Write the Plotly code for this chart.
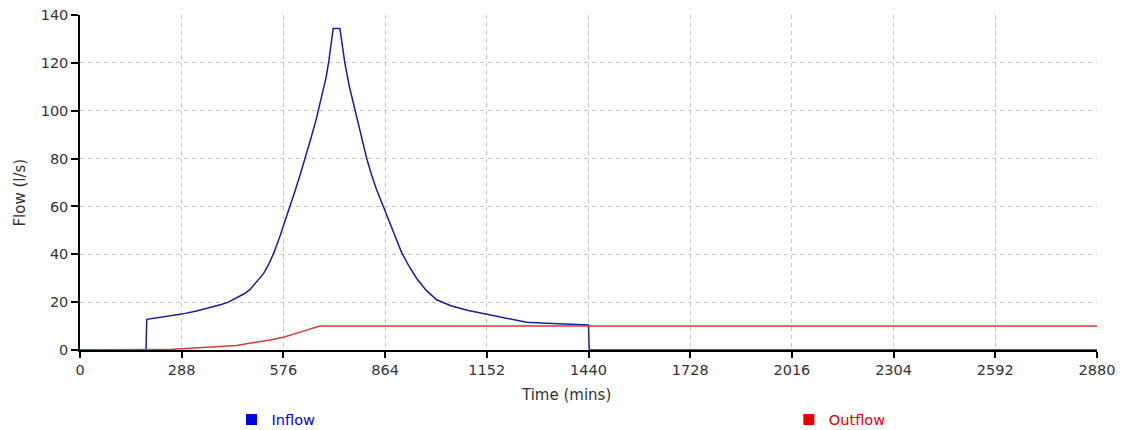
import plotly.graph_objects as go

# ---- data ----
inflow_time = [0, 187, 189, 220, 260, 288, 330, 370, 400, 420, 445, 465, 481, 500, 520, 535,
               550, 565, 580, 595, 610, 625, 640, 655, 670, 685, 697, 705, 712, 717, 736,
               742, 750, 763, 779, 795, 812, 826, 840, 859, 880, 895, 910, 930, 953, 980,
               1010, 1050, 1100, 1152, 1200, 1265, 1320, 1380, 1430, 1440, 1442, 2880]
inflow_flow = [0, 0, 12.8, 13.5, 14.3, 15.0, 16.3, 17.8, 19.0, 20.0, 21.8, 23.5, 25.2, 28.5, 32, 36,
               41, 47, 53.5, 60, 67, 74, 81, 89, 97, 106, 114, 121, 128, 134.4, 134.4,
               128, 120, 110, 100, 90, 80, 73, 67, 60, 52.5, 47, 41, 35.5, 30, 25,
               21, 18.5, 16.5, 14.9, 13.5, 11.6, 11.2, 10.9, 10.7, 10.5, 0, 0]

outflow_time = [0, 255, 262, 288, 330, 358, 400, 444, 480, 510, 538, 576, 610, 640, 665, 680, 2880]
outflow_flow = [0, 0, 0.3, 0.5, 0.8, 1.2, 1.5, 1.9, 2.8, 3.4, 4.2, 5.3, 6.7, 8.2, 9.4, 10.0, 10.0]

x_ticks = [0, 288, 576, 864, 1152, 1440, 1728, 2016, 2304, 2592, 2880]
y_ticks = [0, 20, 40, 60, 80, 100, 120, 140]

series_names = ["Inflow", "Outflow"]

# ---- styling ----
FONT = "DejaVu Sans"
TEXT = "#333333"
LINE_BLUE = "#1c1c9c"
LINE_RED = "#d43a3a"
KEY_BLUE = "#0000e6"
KEY_RED = "#e60000"
GRID = "#c4c4c4"

fig = go.Figure()

fig.add_trace(go.Scatter(x=inflow_time, y=inflow_flow, mode="lines",
                         line=dict(color=LINE_BLUE, width=1.5), showlegend=False,
                         name=series_names[0]))
fig.add_trace(go.Scatter(x=outflow_time, y=outflow_flow, mode="lines",
                         line=dict(color=LINE_RED, width=1.5), showlegend=False,
                         name=series_names[1]))

# legend keys (square swatches)
fig.add_trace(go.Scatter(x=[None], y=[None], mode="markers", name=series_names[0],
                         marker=dict(symbol="square", size=11, color=KEY_BLUE),
                         legend="legend"))
fig.add_trace(go.Scatter(x=[None], y=[None], mode="markers", name=series_names[1],
                         marker=dict(symbol="square", size=11, color=KEY_RED),
                         legend="legend2"))

axis_common = dict(
    showline=True, linecolor="black", linewidth=1.5,
    showgrid=True, gridcolor=GRID, gridwidth=1, griddash="4px,4px",
    zeroline=False, ticks="outside", tickcolor="black", tickwidth=1.5,
    tickfont=dict(family=FONT, size=14.5, color=TEXT), automargin=False,
    ticklabeloverflow="allow", layer="below traces",
)

fig.update_xaxes(range=[0, 2880], tickvals=x_ticks, ticklen=6, **axis_common)
fig.update_yaxes(range=[0, 140], tickvals=y_ticks, ticklen=7, **axis_common)

# the page body adds an 8px offset; the figure is sized so the plot lands where the reference has it
fig.update_layout(
    width=1119, height=422,
    margin=dict(l=72, r=30, t=7, b=80, autoexpand=False),
    paper_bgcolor="white", plot_bgcolor="white",
    font=dict(family=FONT, size=14.5, color=TEXT),
    legend=dict(x=0.149, y=0.025, yref="container", xanchor="left", yanchor="middle",
                orientation="h", bgcolor="rgba(0,0,0,0)", itemwidth=30,
                font=dict(family=FONT, size=14.5, color=KEY_BLUE)),
    legend2=dict(x=0.697, y=0.025, yref="container", xanchor="left", yanchor="middle",
                 orientation="h", bgcolor="rgba(0,0,0,0)", itemwidth=30,
                 font=dict(family=FONT, size=14.5, color=KEY_RED)),
    annotations=[
        dict(text="Time (mins)", xref="paper", yref="paper", x=0.478, y=-0.135,
             xanchor="center", yanchor="middle", showarrow=False,
             font=dict(family=FONT, size=15, color=TEXT)),
        dict(text="Flow (l/s)", xref="paper", yref="paper", x=-0.059, y=0.47,
             xanchor="center", yanchor="middle", showarrow=False, textangle=-90,
             font=dict(family=FONT, size=15, color=TEXT)),
    ],
)

fig.write_html("out.html")
